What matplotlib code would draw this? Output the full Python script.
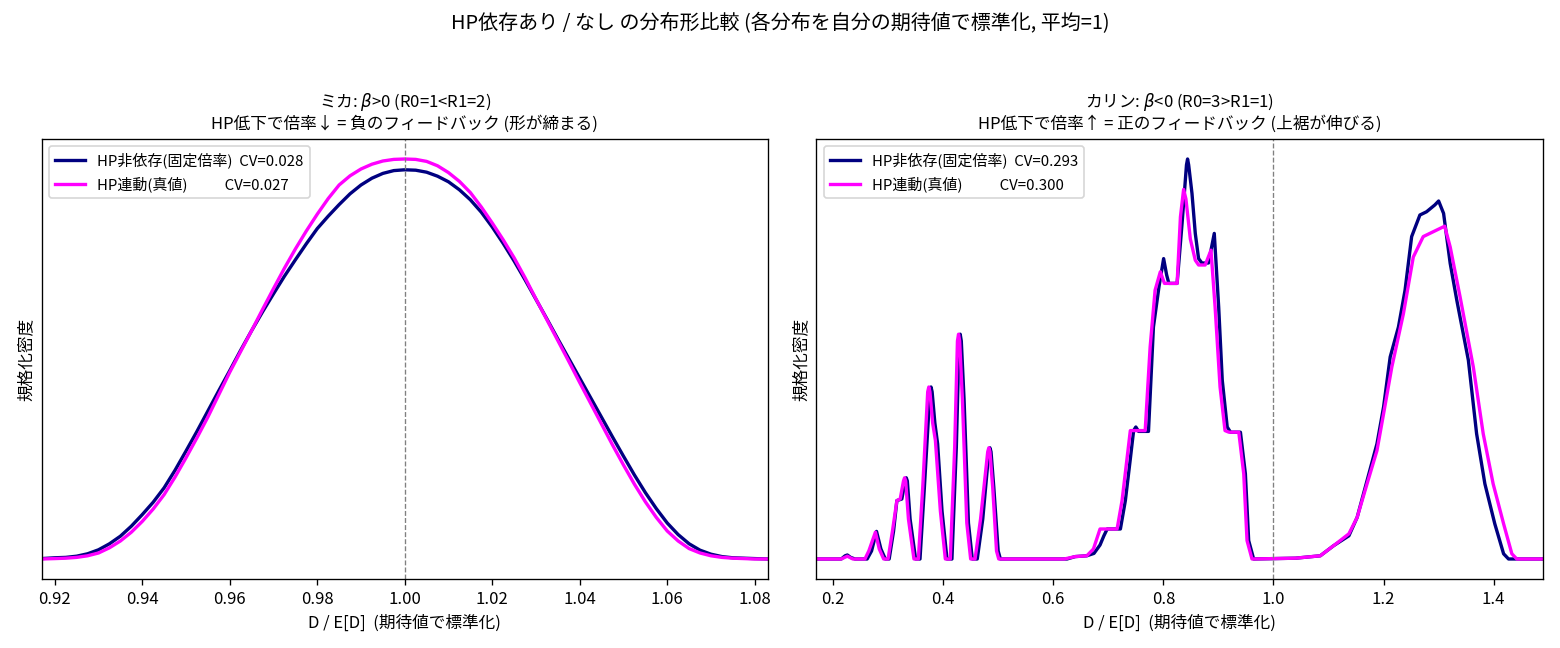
import numpy as np
import matplotlib
matplotlib.use("Agg")
import matplotlib.pyplot as plt

plt.rcParams['font.family'] = ['Noto Sans CJK JP', 'DejaVu Sans']

# ミカ (beta > 0): normalised KDE
mika_x = [0.917, 0.920, 0.9225, 0.925, 0.9275, 0.930, 0.9325, 0.935, 0.9375, 0.940,
          0.9425, 0.945, 0.9475, 0.950, 0.9525, 0.955, 0.9575, 0.960, 0.9625, 0.965,
          0.9675, 0.970, 0.9725, 0.975, 0.9775, 0.980, 0.9825, 0.985, 0.9875, 0.990,
          0.9925, 0.995, 0.9975, 1.000, 1.0025, 1.005, 1.0075, 1.010, 1.0125, 1.015,
          1.0175, 1.020, 1.0225, 1.025, 1.0275, 1.030, 1.0325, 1.035, 1.0375, 1.040,
          1.0425, 1.045, 1.0475, 1.050, 1.0525, 1.055, 1.0575, 1.060, 1.0625, 1.065,
          1.0675, 1.070, 1.0725, 1.075, 1.0775, 1.080, 1.083]
mika_fixed = [0.001, 0.003, 0.004, 0.007, 0.013, 0.023, 0.038, 0.057, 0.082, 0.111,
              0.142, 0.178, 0.222, 0.270, 0.319, 0.370, 0.421, 0.471, 0.522, 0.571,
              0.618, 0.663, 0.707, 0.748, 0.788, 0.826, 0.857, 0.886, 0.913, 0.935,
              0.952, 0.964, 0.971, 0.973, 0.972, 0.967, 0.957, 0.943, 0.923, 0.898,
              0.867, 0.830, 0.789, 0.745, 0.698, 0.649, 0.600, 0.550, 0.501, 0.452,
              0.403, 0.354, 0.305, 0.257, 0.210, 0.166, 0.126, 0.090, 0.061, 0.038,
              0.022, 0.012, 0.006, 0.003, 0.002, 0.001, 0.000]
mika_true = [0.000, 0.001, 0.002, 0.004, 0.008, 0.015, 0.028, 0.045, 0.067, 0.094,
             0.125, 0.161, 0.205, 0.253, 0.303, 0.355, 0.411, 0.467, 0.519, 0.571,
             0.624, 0.676, 0.727, 0.775, 0.820, 0.862, 0.901, 0.935, 0.958, 0.975,
             0.987, 0.995, 0.999, 1.000, 0.999, 0.994, 0.983, 0.966, 0.944, 0.916,
             0.880, 0.840, 0.798, 0.753, 0.703, 0.650, 0.598, 0.546, 0.494, 0.441,
             0.389, 0.337, 0.285, 0.235, 0.187, 0.143, 0.104, 0.070, 0.045, 0.026,
             0.015, 0.008, 0.004, 0.002, 0.001, 0.000, 0.000]
mika_cv = [0.028, 0.027]

# カリン (beta < 0)
karin_fixed_x = [0.170, 0.215, 0.222, 0.226, 0.232, 0.240, 0.262, 0.270, 0.279, 0.287,
                 0.295, 0.302, 0.310, 0.316, 0.325, 0.331, 0.333, 0.335, 0.340, 0.350,
                 0.358, 0.366, 0.376, 0.378, 0.380, 0.385, 0.390, 0.398, 0.407, 0.416,
                 0.424, 0.429, 0.431, 0.433, 0.438, 0.446, 0.453, 0.462, 0.472, 0.483,
                 0.485, 0.487, 0.492, 0.500, 0.504, 0.625, 0.640, 0.661, 0.674, 0.685,
                 0.692, 0.698, 0.722, 0.731, 0.740, 0.746, 0.750, 0.755, 0.773, 0.782,
                 0.792, 0.8005, 0.806, 0.810, 0.825, 0.834, 0.842, 0.844, 0.846, 0.852,
                 0.858, 0.864, 0.870, 0.882, 0.8925, 0.9005, 0.907, 0.916, 0.922, 0.940,
                 0.949, 0.955, 0.964, 1.040, 1.085, 1.109, 1.137, 1.152, 1.170, 1.188,
                 1.200, 1.212, 1.227, 1.239, 1.251, 1.266, 1.278, 1.293, 1.300, 1.309,
                 1.321, 1.333, 1.354, 1.369, 1.384, 1.402, 1.418, 1.427, 1.489]
karin_fixed = [0.000, 0.000, 0.008, 0.010, 0.004, 0.000, 0.000, 0.020, 0.069, 0.025,
               0.000, 0.000, 0.070, 0.146, 0.150, 0.195, 0.203, 0.195, 0.100, 0.000,
               0.000, 0.180, 0.418, 0.430, 0.418, 0.340, 0.288, 0.120, 0.000, 0.000,
               0.280, 0.545, 0.562, 0.545, 0.400, 0.090, 0.000, 0.000, 0.100, 0.268,
               0.278, 0.268, 0.180, 0.020, 0.000, 0.000, 0.006, 0.008, 0.014, 0.035,
               0.058, 0.075, 0.075, 0.146, 0.250, 0.321, 0.330, 0.319, 0.319, 0.580,
               0.680, 0.751, 0.710, 0.689, 0.689, 0.839, 0.985, 1.000, 0.985, 0.914,
               0.814, 0.751, 0.740, 0.740, 0.814, 0.630, 0.447, 0.330, 0.317, 0.317,
               0.213, 0.046, 0.000, 0.002, 0.008, 0.033, 0.058, 0.104, 0.196, 0.288,
               0.380, 0.505, 0.580, 0.672, 0.806, 0.860, 0.868, 0.885, 0.895, 0.864,
               0.739, 0.647, 0.497, 0.313, 0.188, 0.088, 0.013, 0.000, 0.000]

karin_true_x = [0.170, 0.215, 0.226, 0.236, 0.258, 0.265, 0.277, 0.284, 0.292, 0.300,
                0.308, 0.316, 0.322, 0.328, 0.330, 0.332, 0.337, 0.347, 0.355, 0.363,
                0.372, 0.374, 0.376, 0.381, 0.386, 0.395, 0.404, 0.413, 0.421, 0.426,
                0.428, 0.430, 0.435, 0.443, 0.450, 0.458, 0.468, 0.481, 0.483, 0.485,
                0.490, 0.497, 0.501, 0.620, 0.640, 0.661, 0.673, 0.685, 0.716, 0.725,
                0.740, 0.767, 0.776, 0.785, 0.7945, 0.802, 0.825, 0.831, 0.8368, 0.841,
                0.849, 0.858, 0.864, 0.876, 0.8865, 0.894, 0.903, 0.912, 0.919, 0.937,
                0.946, 0.952, 0.961, 1.040, 1.085, 1.109, 1.137, 1.152, 1.170, 1.188,
                1.200, 1.215, 1.236, 1.254, 1.272, 1.290, 1.311, 1.321, 1.339, 1.363,
                1.381, 1.399, 1.418, 1.433, 1.442, 1.489]
karin_true = [0.000, 0.000, 0.007, 0.000, 0.000, 0.020, 0.067, 0.025, 0.000, 0.000,
              0.070, 0.146, 0.150, 0.195, 0.203, 0.195, 0.100, 0.000, 0.000, 0.180,
              0.418, 0.430, 0.418, 0.340, 0.296, 0.120, 0.000, 0.000, 0.280, 0.545,
              0.562, 0.545, 0.400, 0.090, 0.000, 0.000, 0.100, 0.268, 0.278, 0.268,
              0.180, 0.020, 0.000, 0.000, 0.006, 0.008, 0.025, 0.075, 0.075, 0.146,
              0.321, 0.321, 0.530, 0.672, 0.718, 0.689, 0.689, 0.855, 0.924, 0.900,
              0.800, 0.747, 0.735, 0.735, 0.772, 0.630, 0.430, 0.321, 0.317, 0.317,
              0.213, 0.046, 0.000, 0.002, 0.008, 0.033, 0.063, 0.104, 0.188, 0.271,
              0.363, 0.480, 0.613, 0.755, 0.806, 0.818, 0.832, 0.780, 0.655, 0.480,
              0.313, 0.188, 0.088, 0.013, 0.000, 0.000]
karin_cv = [0.293, 0.300]

fig, axes = plt.subplots(1, 2, figsize=(13, 5.4), dpi=120)
fig.subplots_adjust(left=0.0267, right=0.9889, top=0.7855, bottom=0.1065, wspace=0.067)

panels = [
    (axes[0], mika_x, mika_fixed, mika_x, mika_true, mika_cv,
     "ミカ: $\\beta$>0 (R0=1<R1=2)\nHP低下で倍率↓ = 負のフィードバック (形が締まる)"),
    (axes[1], karin_fixed_x, karin_fixed, karin_true_x, karin_true, karin_cv,
     "カリン: $\\beta$<0 (R0=3>R1=1)\nHP低下で倍率↑ = 正のフィードバック (上裾が伸びる)"),
]

for ax, xf, yf, xt, yt, cv, title in panels:
    ax.plot(xf, yf, color='navy', lw=2, label=f"HP非依存(固定倍率)  CV={cv[0]:.3f}")
    ax.plot(xt, yt, color='magenta', lw=2, label=f"HP連動(真値)           CV={cv[1]:.3f}")
    ax.axvline(1.0, color='gray', ls='--', lw=0.8)
    ax.set_xlim(min(xf[0], xt[0]), max(xf[-1], xt[-1]))
    ax.set_yticks([])
    ax.set_xlabel("D / E[D]  (期待値で標準化)", fontsize=10)
    ax.set_ylabel("規格化密度", fontsize=10)
    ax.set_title(title, fontsize=10)
    ax.legend(loc='upper left', fontsize=9)

fig.suptitle("HP依存あり / なし の分布形比較 (各分布を自分の期待値で標準化, 平均=1)", fontsize=12)
plt.savefig("out.png")
